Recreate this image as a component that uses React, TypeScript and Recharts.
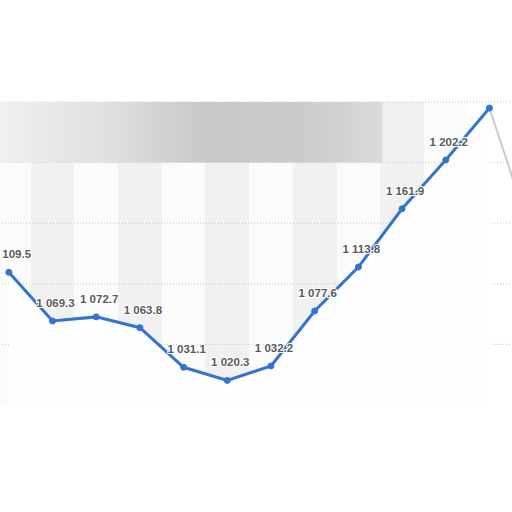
import { ComposedChart, Area, Line, XAxis, YAxis, CartesianGrid, ReferenceArea } from 'recharts';

// closing values, one per period
const values = [1109.5, 1069.3, 1072.7, 1063.8, 1031.1, 1020.3, 1032.2, 1077.6, 1113.8, 1161.9, 1202.2, 1245.0];
// grey continuation after the last blue point
const trailValues = [null, null, null, null, null, null, null, null, null, null, null, 1245.0, 1136.0];
const yDomain = [1000, 1250];
const yTicks = [1050, 1100, 1150, 1200, 1250];
const hiddenLabels = [11];

const data = trailValues.map((t, i) => ({
  idx: i,
  value: i < values.length ? values[i] : null,
  trail: t,
}));

// band edges halfway between points
const bandEdges = Array.from({ length: data.length + 1 }, (_, i) => i - 0.5);
const bandFills = data.map((_, i) => {
  if (i >= values.length - 1) return '#ffffff';
  return i % 2 === 1 ? '#f1f1f1' : '#fbfbfb';
});

const formatValue = (v: number) => {
  const [int, dec] = v.toFixed(1).split('.');
  return `${int.replace(/\B(?=(\d{3})+(?!\d))/g, ' ')}.${dec}`;
};

const renderLabel = (props: any) => {
  const { x, y, value, index } = props;
  if (value == null || hiddenLabels.includes(index)) return null;
  return (
    <text
      x={x + 3}
      y={y - 14}
      textAnchor="middle"
      fontFamily="'Liberation Sans', Arial, sans-serif"
      fontSize={11.5}
      fontWeight="bold"
      fill="#5a5a5a"
      stroke="#ffffff"
      strokeWidth={2}
      paintOrder="stroke"
    >
      {formatValue(value)}
    </text>
  );
};

// only the listed value rows (no line on the bottom edge)
const gridRows = (props: any) => {
  const scale = props?.yAxis?.scale;
  if (typeof scale === 'function') return yTicks.map((t) => scale(t));
  if (scale && typeof scale.map === 'function') return yTicks.map((t) => scale.map(t));
  const { top, height } = props.offset;
  const [lo, hi] = yDomain;
  return yTicks.map((t) => top + ((hi - t) / (hi - lo)) * height);
};

export default function App() {
  return (
    <div style={{ position: 'absolute', left: 0, top: 0, width: 512, height: 512, overflow: 'hidden', background: '#fff' }}>
      <div style={{ position: 'absolute', left: -20, top: 0 }}>
        <ComposedChart width={600} height={512} data={data} margin={{ top: 102, right: 25, bottom: 107, left: 7 }}>
          <defs>
            <linearGradient id="smudge" x1="0" y1="0" x2="1" y2="0">
              <stop offset="0%" stopColor="#f2f2f2" />
              <stop offset="30%" stopColor="#e0e0e0" />
              <stop offset="55%" stopColor="#c8c8c8" />
              <stop offset="80%" stopColor="#cbcbcb" />
              <stop offset="100%" stopColor="#dadada" />
            </linearGradient>
          </defs>
          <XAxis dataKey="idx" type="number" domain={[-0.5, data.length - 0.5]} ticks={bandEdges} hide />
          <YAxis type="number" domain={yDomain} ticks={yTicks} allowDataOverflow hide />
          <CartesianGrid horizontal={false} stroke="none" verticalFill={bandFills} />
          <CartesianGrid vertical={false} stroke="#c4c4c4" strokeDasharray="1 2" horizontalCoordinatesGenerator={gridRows} />
          <ReferenceArea x1={-0.5} x2={8.55} y1={1200} y2={1250} fill="url(#smudge)" fillOpacity={1} stroke="none" ifOverflow="visible" />
          <Line
            dataKey="trail"
            stroke="#c8c8c8"
            strokeWidth={2}
            dot={false}
            isAnimationActive={false}
          />
          <Area
            dataKey="value"
            type="linear"
            baseValue={1000}
            stroke="#3573d0"
            strokeWidth={3}
            fill="#fefefe"
            fillOpacity={1}
            dot={{ r: 3, fill: '#3573d0', stroke: '#3573d0', strokeWidth: 1 }}
            activeDot={false}
            label={renderLabel}
            isAnimationActive={false}
          />
        </ComposedChart>
      </div>
    </div>
  );
}
